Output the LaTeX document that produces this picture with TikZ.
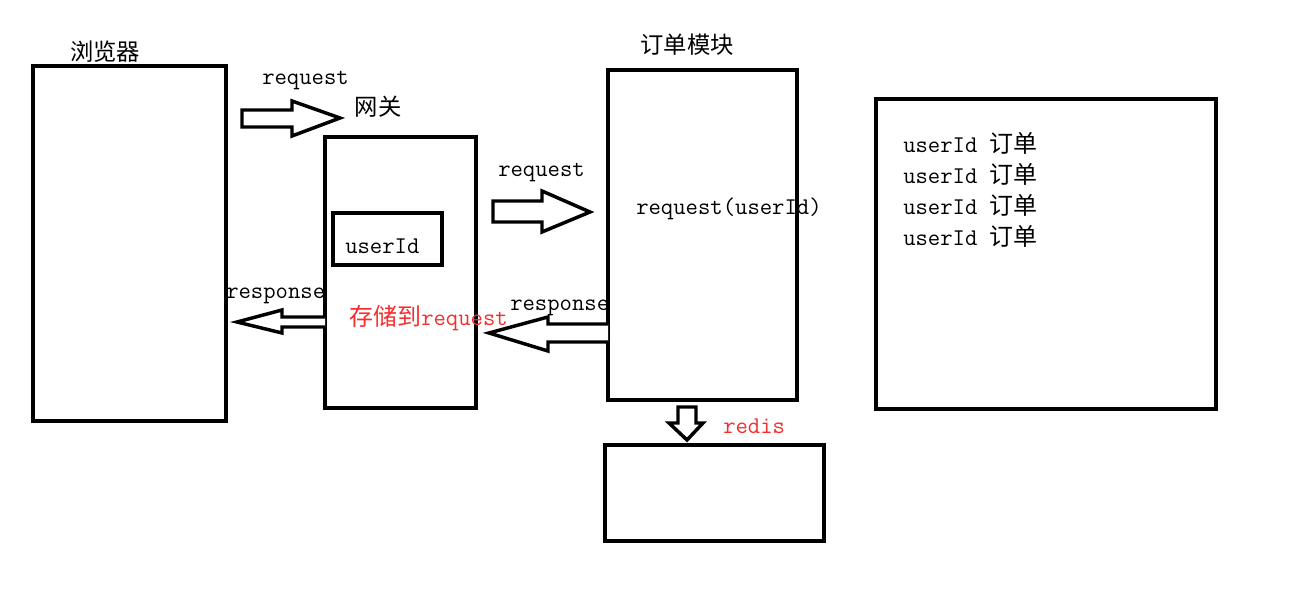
\documentclass[tikz,border=0pt]{standalone}
\usepackage{fontspec}
\newfontfamily\cjk{Noto Sans CJK SC}
\usetikzlibrary{positioning}
\definecolor{notered}{RGB}{245,45,45}

\begin{document}
\begin{tikzpicture}[x=0.75pt,y=-0.75pt,
  box/.style={draw,line width=2.6pt,inner sep=0pt},
  txt/.style={font=\fontsize{18}{20}\selectfont\ttfamily,inner sep=0pt,anchor=west},
  cn/.style={font=\fontsize{17.5}{20}\selectfont\cjk,inner sep=0pt},
  note/.style={txt,text=notered},
  fat/.style={line width=2.6pt,line join=miter,fill=white}]
 \useasboundingbox (0,0) rectangle (1311,598);
 % boxes
 \node[box,minimum width=193*0.75pt,minimum height=355*0.75pt] (browser) at (129.5,243.5) {};
 \node[box,minimum width=151*0.75pt,minimum height=271*0.75pt] (gateway) at (400.5,272.5) {};
 \node[box,minimum width=109*0.75pt,minimum height=52*0.75pt] (uid) at (387.5,239) {};
 \node[box,minimum width=189*0.75pt,minimum height=330*0.75pt] (order) at (702.5,235) {};
 \node[box,minimum width=340*0.75pt,minimum height=310*0.75pt] (store) at (1046,254) {};
 \node[box,minimum width=219*0.75pt,minimum height=96*0.75pt] (redis) at (714.5,493) {};
 % titles
 \node[cn] (tbrowser) at (105,52) {浏览器};
 \node[cn] (tgateway) at (378,107) {网关};
 \node[cn] (torder) at (687,45) {订单模块};
 % block arrows
 \draw[fat] (242,110)--(292,110)--(292,101)--(340,118)--(292,136)--(292,127)--(242,127)--cycle;
 \draw[fat] (493,201)--(542,201)--(542,191)--(590,212)--(542,232)--(542,222)--(493,222)--cycle;
 \draw[fat] (325,317)--(282,317)--(282,310)--(237,322)--(282,333)--(282,327)--(325,327);
 \draw[fat] (608,324)--(548,324)--(548,317)--(489,333)--(548,351)--(548,342)--(608,342);
 \draw[fat] (678,407)--(696,407)--(696,423)--(703,423)--(687,440)--(669,423)--(678,423)--cycle;
 % labels
 \node[txt] (req1) at (262,81) {request};
 \node[txt] (req2) at (498,173) {request};
 \node[txt] (uidtxt) at (345,246) {userId};
 \node[txt] (resp1) at (226,296) {response};
 \node[note] (save) at (349,318) {{\cjk 存储到}request};
 \node[txt] (resp2) at (510,308) {response};
 \node[txt] (reqid) at (636,209) {request(userId)};
 \node[note] (tredis) at (723,426) {redis};
 \foreach \y/\n in {143/a,174/b,205/c,236/d}
  \node[txt] (row\n) at (903,\y) {userId {\cjk 订单}};
\end{tikzpicture}
\end{document}
